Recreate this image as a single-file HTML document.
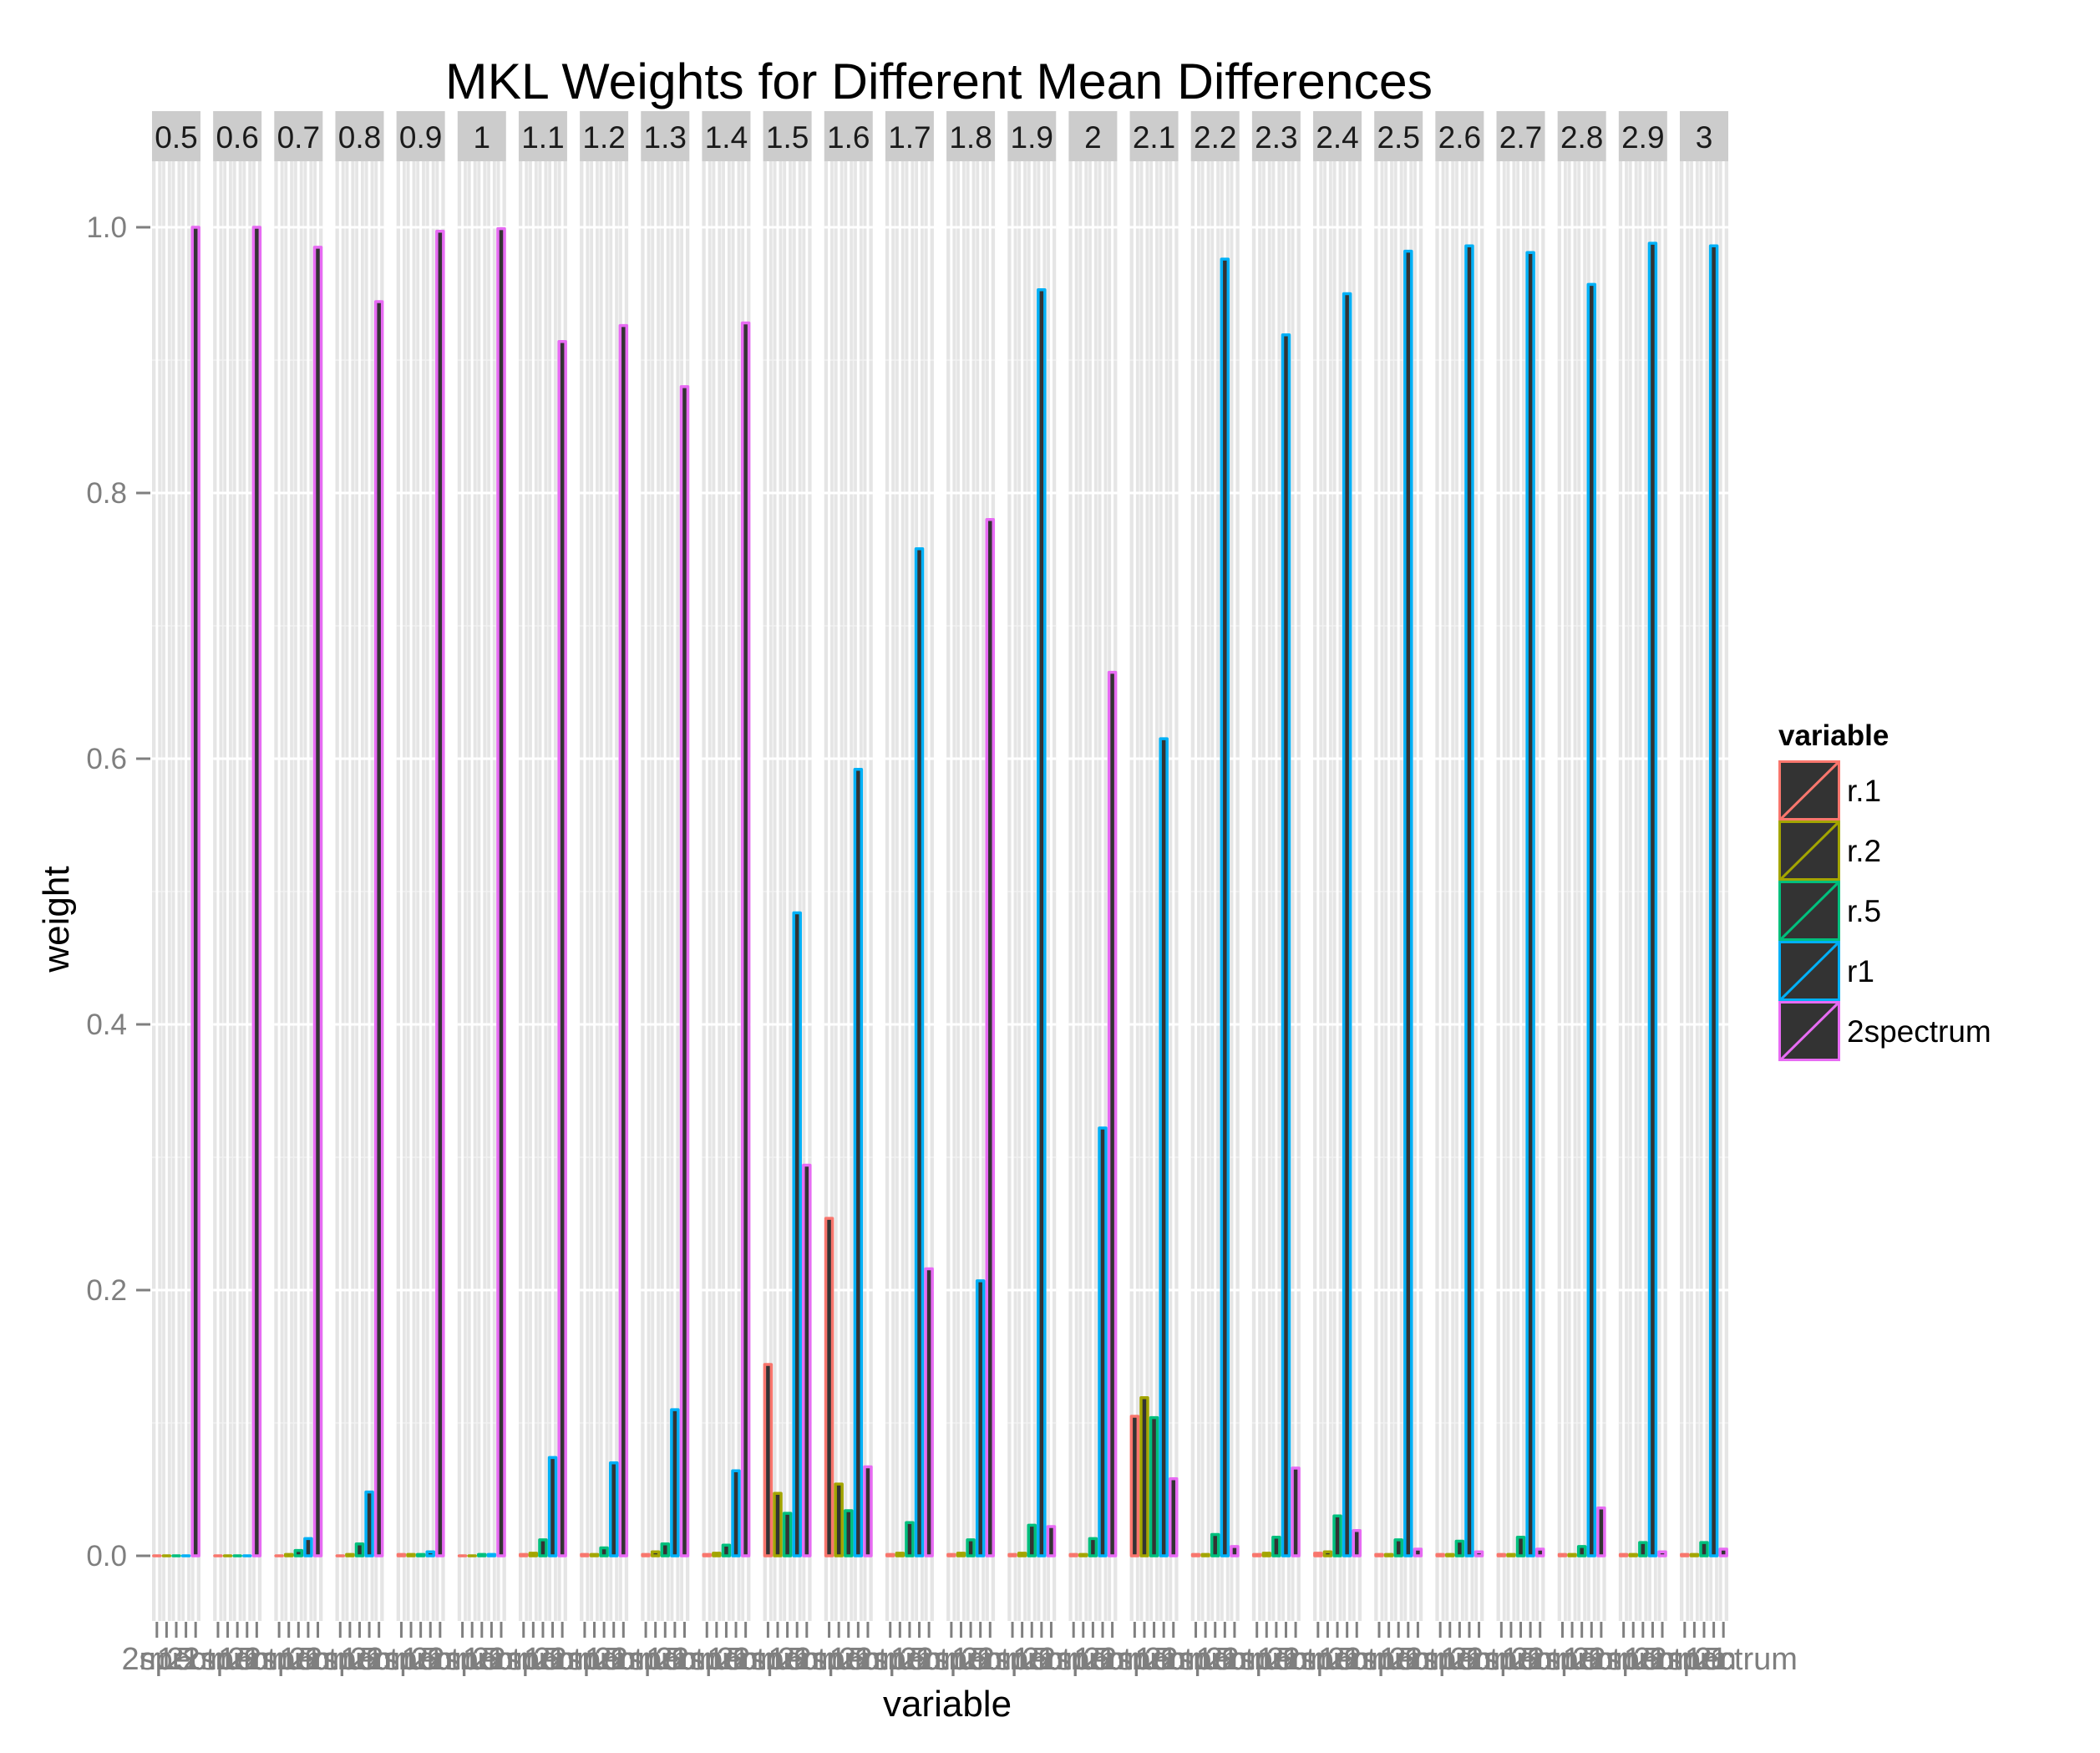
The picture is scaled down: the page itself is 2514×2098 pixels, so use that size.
<!DOCTYPE html>
<html><head><meta charset="utf-8"><style>
html,body{margin:0;padding:0;background:#fff;}
svg{display:block;font-family:"Liberation Sans",sans-serif;}
</style></head><body>
<svg id="chart" width="2514" height="2098" viewBox="0 0 2514 2098" xmlns="http://www.w3.org/2000/svg">
<text x="1124" y="118" font-size="60" text-anchor="middle" textLength="1182" lengthAdjust="spacingAndGlyphs" fill="#000">MKL Weights for Different Mean Differences</text>
<g id="panels"></g>
<g id="yaxis"></g>
<text x="0" y="0" font-size="44" text-anchor="middle" transform="translate(82,1100) rotate(-90)" fill="#000">weight</text>
<text x="1134" y="2054" font-size="44" text-anchor="middle" fill="#000">variable</text>
<g id="legend"></g>
</svg>
<script>
const facets = ["0.5","0.6","0.7","0.8","0.9","1","1.1","1.2","1.3","1.4","1.5","1.6","1.7","1.8","1.9","2","2.1","2.2","2.3","2.4","2.5","2.6","2.7","2.8","2.9","3"];
const variables = ["r.1","r.2","r.5","r1","2spectrum"];
const r_1 = [0,0,0,0,0.001,0,0.001,0.001,0.001,0.001,0.144,0.254,0.001,0.001,0.001,0.001,0.105,0.001,0.001,0.002,0.001,0.001,0.001,0.001,0.001,0.001];
const r_2 = [0,0,0.001,0.001,0.001,0,0.002,0.001,0.003,0.002,0.047,0.054,0.002,0.002,0.002,0.001,0.119,0.001,0.002,0.003,0.001,0.001,0.001,0.001,0.001,0.001];
const r_5 = [0,0,0.004,0.009,0.001,0.001,0.012,0.006,0.009,0.008,0.032,0.034,0.025,0.012,0.023,0.013,0.104,0.016,0.014,0.030,0.012,0.011,0.014,0.007,0.010,0.010];
const r1 = [0,0,0.013,0.048,0.003,0.001,0.074,0.070,0.110,0.064,0.484,0.592,0.758,0.207,0.953,0.322,0.615,0.976,0.919,0.950,0.982,0.986,0.981,0.957,0.988,0.986];
const spectrum2 = [1.0,1.0,0.985,0.944,0.997,0.999,0.914,0.926,0.880,0.928,0.294,0.067,0.216,0.780,0.022,0.665,0.058,0.007,0.066,0.019,0.005,0.003,0.005,0.036,0.003,0.005];
const yTicks = [0,0.2,0.4,0.6,0.8,1.0];
const yTickLabels = ["0.0","0.2","0.4","0.6","0.8","1.0"];

const series = [r_1,r_2,r_5,r1,spectrum2];
const colors = ["#F8766D","#A3A500","#00BF7D","#00B0F6","#E76BF3"];
const NS = "http://www.w3.org/2000/svg";
const panelX0 = 182, panelStep = 73.16, panelW = 58, panelTop = 193, panelBot = 1940;
const yScale = v => 1862 - v * 1590;
const barW = panelW / variables.length;
function mk(tag, attrs, parent){const e=document.createElementNS(NS,tag);for(const k in attrs)e.setAttribute(k,attrs[k]);parent.appendChild(e);return e;}

const panels = document.getElementById('panels');
facets.forEach((f, i) => {
  const px = panelX0 + i * panelStep;
  const g = mk('g', {}, panels);
  
  
  const bg = mk('rect', {x:px, y:panelTop, width:panelW, height:panelBot-panelTop, fill:'#E5E5E5'}, g);
  
  
  for (let k = 0; k < 5; k++) {
    const y = yScale(yTicks[k] + 0.1);
    mk('line', {x1:px, x2:px+panelW, y1:y, y2:y, stroke:'#F2F2F2', 'stroke-width':1.5}, g);
  }
  for (let k = 1; k < variables.length; k++) {
    const x = px + k * barW;
    mk('line', {x1:x, x2:x, y1:panelTop, y2:panelBot, stroke:'#F2F2F2', 'stroke-width':1.5}, g);
  }
  yTicks.forEach(t => {
    const y = yScale(t);
    mk('line', {x1:px, x2:px+panelW, y1:y, y2:y, stroke:'#FFFFFF', 'stroke-width':3}, g);
  });
  for (let k = 0; k < variables.length; k++) {
    const x = px + (k + 0.5) * barW;
    mk('line', {x1:x, x2:x, y1:panelTop, y2:panelBot, stroke:'#FFFFFF', 'stroke-width':3}, g);
  }
  const strip = mk('rect', {x:px, y:133, width:panelW, height:60, fill:'#CCCCCC'}, g);
  
  
  const st = mk('text', {x:px+panelW/2, y:177, 'font-size':37, 'text-anchor':'middle', fill:'#1A1A1A'}, g);
  st.textContent = f;
  
  
  series.forEach((s, k) => {
    const x1 = px + k * barW + 1.8, x2 = px + (k + 1) * barW - 1.8;
    const y0 = yScale(0), yv = yScale(s[i]);
    const p = mk('path', {d:`M${x1},${y0} V${yv} H${x2} V${y0} Z`, fill:'#333333', stroke:colors[k], 'stroke-width':3.5, 'stroke-linejoin':'round'}, g);
    
    
  });
  variables.forEach((v, k) => {
    const x = px + (k + 0.5) * barW;
    mk('line', {x1:x, x2:x, y1:1941, y2:1960, stroke:'#7F7F7F', 'stroke-width':3}, g);
    const t = mk('text', {x:x, y:1998, 'font-size':38, 'text-anchor':'middle', fill:'#7F7F7F'}, g);
    t.textContent = v;
    
    
  });
});

const yaxis = document.getElementById('yaxis');
yTicks.forEach((t, k) => {
  const y = yScale(t);
  mk('line', {x1:163, x2:180, y1:y, y2:y, stroke:'#7F7F7F', 'stroke-width':3}, yaxis);
  const lb = mk('text', {x:152, y:y+12, 'font-size':35, 'text-anchor':'end', fill:'#7F7F7F'}, yaxis);
  lb.textContent = yTickLabels[k];
  
  
});

const legend = document.getElementById('legend');
const lt = mk('text', {x:2129, y:892, 'font-size':35, 'font-weight':'bold', fill:'#000'}, legend);
lt.textContent = 'variable';


variables.forEach((v, k) => {
  const y = 910 + k * 72;
  const g = mk('g', {}, legend);
  
  
  mk('rect', {x:2130.5, y:y+1.5, width:71, height:69, fill:'#333333', stroke:colors[k], 'stroke-width':3}, g);
  mk('line', {x1:2131, y1:y+71, x2:2202, y2:y+1, stroke:colors[k], 'stroke-width':3}, g);
  const t = mk('text', {x:2211, y:y+49, 'font-size':37, fill:'#000'}, g);
  t.textContent = v;
});
</script>
</body></html>
